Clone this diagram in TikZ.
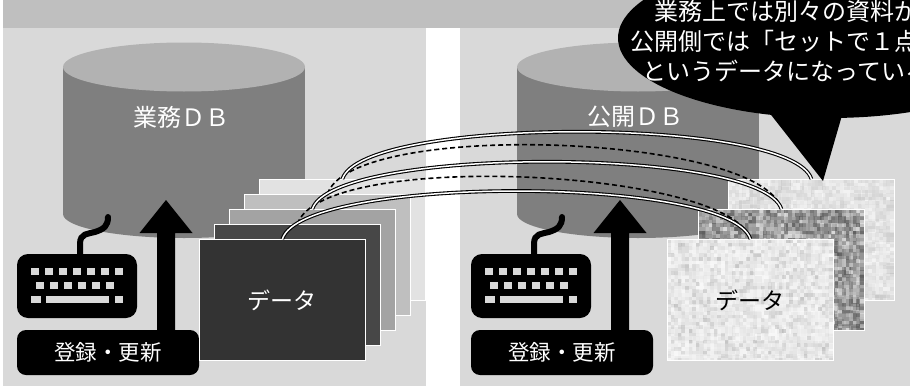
\documentclass[tikz,border=0pt]{standalone}
\usepackage{fontspec}
\newfontfamily\jpfont{Noto Sans CJK JP}
\usetikzlibrary{calc}

\definecolor{bandgray}{HTML}{BFBFBF}
\definecolor{panelgray}{HTML}{D9D9D9}
\definecolor{dbtop}{HTML}{B2B2B2}
\definecolor{dbbody}{HTML}{7F7F7F}
\definecolor{cardA}{HTML}{333333}
\definecolor{cardB}{HTML}{474747}
\definecolor{cardC}{HTML}{A3A3A3}
\definecolor{cardD}{HTML}{BFBFBF}
\definecolor{cardE}{HTML}{E2E2E2}

% grainy photo-like fill: x0, y0, last column, last row, cell size, grey expression, opacity
\newcommand\grainfill[7]{%
  \foreach \gi in {0,...,#3}{%
    \foreach \gj in {0,...,#4}{%
      \pgfmathsetmacro\gv{#6}%
      \fill[black!\gv, opacity=#7] ({#1+#5*\gi},{#2+#5*\gj}) rectangle +(#5+0.3,#5+0.3);%
    }}}

% one side: cylinder, keyboard, arrow and caption
\newcommand\drawside[3]{%
  \begin{scope}[shift={(#2,0)}]
    \fill[dbbody] (63,67) rectangle (305,214);
    \fill[dbbody] (184,214) ellipse [x radius=121, y radius=24];
    \fill[dbtop] (184,67) ellipse [x radius=121, y radius=24.5];
    \node[bigtext, text=white] (#1db) at (181,117) {#3};
    % keyboard
    \node[kbbox] (#1kb) at (77,286) {};
    \foreach \k in {0,...,6} \fill[panelgray] ({31+14*\k},268) rectangle +(7.6,7.4);
    \foreach \k in {0,...,5} \fill[panelgray] ({36+14*\k},281.8) rectangle +(7.6,7.4);
    \fill[panelgray] (31,295.5) rectangle (40.5,302.9);
    \fill[panelgray] (46,295.5) rectangle (109,302.9);
    \fill[panelgray] (114.5,295.5) rectangle (123.3,302.9);
    \coordinate (#1plug) at (108,217);
    \draw[cable] ([xshift=3pt]#1kb.north) -- (80,244)
      .. controls (80,233) and (88,234) .. (95,232)
      .. controls (104,229) and (108,226) .. (#1plug);
    % upload arrow
    \coordinate (#1tip) at (166,200);
    \fill (157,331) -- (157,233) -- (139.5,233) -- (#1tip) -- (192.5,233)
      -- (175,233) -- (175,331) -- cycle;
    \node[capbox] (#1cap) at (108,352.5) {登録・更新};
  \end{scope}}

\begin{document}
\begin{tikzpicture}[x=1pt, y=-1pt,
  bigtext/.style={font=\jpfont\fontsize{24}{28}\selectfont},
  kbbox/.style={fill=black, rounded corners=11pt, minimum width=120pt,
    minimum height=64pt, inner sep=0pt},
  cable/.style={line width=6pt, line cap=round},
  capbox/.style={fill=black, rounded corners=9pt, minimum width=182pt,
    minimum height=45pt, inner sep=0pt, text=white,
    font=\jpfont\fontsize{21.5}{24}\selectfont},
  card/.style={draw=white, line width=0.8pt, minimum width=166pt,
    minimum height=121pt, inner sep=0pt, anchor=north west},
  cardedge/.style={draw=white, line width=0.8pt},
  link/.style={line width=1.1pt, double=white, double distance=1.5pt},
  setlink/.style={line width=1.6pt, dash pattern=on 5pt off 3pt},
]
\useasboundingbox (0,0) rectangle (910,388);
\clip (0,0) rectangle (910,388);
\fill[white] (0,0) rectangle (910,388);

% background band and panels
\fill[bandgray] (3,0) rectangle (910,28);
\fill[panelgray] (3,28) rectangle (426,386);
\fill[panelgray] (460,28) rectangle (910,386);

\drawside{L}{0}{業務ＤＢ}
\drawside{R}{454}{公開ＤＢ}

% internal records, stacked
\node[card, fill=cardE] (L5) at (259,179) {};
\node[card, fill=cardD] (L4) at (244,194) {};
\node[card, fill=cardC] (L3) at (229,209) {};
\node[card, fill=cardB] (L2) at (214,224) {};
\node[card, fill=cardA, text=white,
  font=\jpfont\fontsize{23}{26}\selectfont] (L1) at (199,239) {データ};

% published records, with picture texture
\pgfmathsetseed{4711}
\node[card, fill=white] (R3) at (728,179) {};
\begin{scope}
  \clip (R3.north west) rectangle (R3.south east);
  \grainfill{728}{179}{16}{12}{10.5}{4+22*rnd*rnd}{1}
  \grainfill{728}{179}{47}{34}{3.6}{3+16*rnd}{0.5}
\end{scope}
\draw[cardedge] (R3.north west) rectangle (R3.south east);

\node[card, fill=white] (R2) at (698,209) {};
\begin{scope}
  \clip (R2.north west) rectangle (R2.south east);
  \grainfill{698}{209}{23}{17}{7.3}{18+40*rnd}{1}
  \grainfill{698}{209}{47}{34}{3.6}{8+62*rnd}{0.55}
\end{scope}
\draw[cardedge] (R2.north west) rectangle (R2.south east);

\node[card, fill=white] (R1) at (667,239) {};
\begin{scope}
  \clip (R1.north west) rectangle (R1.south east);
  \grainfill{667}{239}{23}{17}{7.3}{3+12*rnd}{1}
  \grainfill{667}{239}{47}{34}{3.6}{2+30*rnd*rnd}{0.55}
\end{scope}
\draw[cardedge] (R1.north west) rectangle (R1.south east);
\node[font=\jpfont\fontsize{23}{26}\selectfont] (R1t) at (R1.center) {データ};

% which internal records make up each published record
\draw[setlink] (L2.north) .. controls +(25,-75) and +(-20,-70) .. (R1.north);
\draw[setlink] (L4.north) .. controls +(25,-75) and +(-20,-75) .. (R2.north);
\draw[link] (L1.north) .. controls +(20,-64) and +(-20,-64) .. (R1.north);
\draw[link] (L3.north) .. controls +(20,-63) and +(-20,-63) .. (R2.north);
\draw[link] (L5.north) .. controls +(20,-63) and +(-20,-63) .. (R3.north);

% callout
\fill (830,38) ellipse [x radius=212, y radius=80];
\fill (757,97) -- (823,181) -- (845,105) -- cycle;
\node[bigtext, text=white, align=center, font=\jpfont\fontsize{24}{30}\selectfont]
  (note) at (786,41) {業務上では別々の資料が\\公開側では「セットで１点」\\というデータになっている};
\end{tikzpicture}
\end{document}
